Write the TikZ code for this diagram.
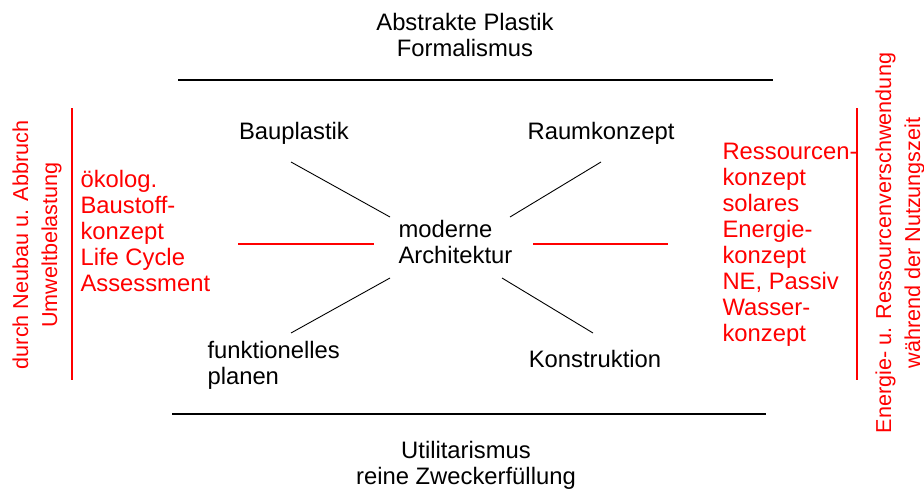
\documentclass[tikz,border=0pt]{standalone}
\usepackage{fontspec}
\setmainfont{Liberation Sans}
\begin{document}
\begin{tikzpicture}[x=1pt,y=-1pt]

      \useasboundingbox (0,0) rectangle (924,490);

      \begin{scope}[every node/.style={align=center,font=\fontsize{23.8}{26}\selectfont}]
        \node (abs)  at (465,35)  {Abstrakte Plastik\\Formalismus};
        \node (uti)  at (466,465) {Utilitarismus\\reine Zweckerfüllung};
        \node (bau)  at (294,133) {Bauplastik};
        \node (raum) at (601,133) {Raumkonzept};
        \node (kon)  at (595,359) {Konstruktion};
        \node[align=left,anchor=west] (mod)  at (395,242) {moderne\\Architektur};
        \node[align=left,anchor=west] (fkt)  at (204,365) {funktionelles\\planen};
      \end{scope}

      \begin{scope}[every node/.style={red,font=\fontsize{23.8}{26}\selectfont}]
        \node[align=left,anchor=west] (oeko) at (77,231) {ökolog.\\Baustoff-\\konzept\\Life Cycle\\Assessment};
        \node[align=left,anchor=west] (ress) at (719,245) {Ressourcen-\\konzept\\solares\\Energie-\\konzept\\NE, Passiv\\Wasser-\\konzept};
      \end{scope}

      \begin{scope}[every node/.style={red,rotate=90,align=center,font=\fontsize{21.6}{29}\selectfont}]
        \node (umw)  at (37,245)  {durch Neubau u. Abbruch\\Umweltbelastung};
        \node (ener) at (900,243) {Energie- u. Ressourcenverschwendung\\während der Nutzungszeit};
      \end{scope}

      % Linien
      \coordinate (t1) at (178,80);  \coordinate (t2) at (773,80);
      \coordinate (b1) at (172,414); \coordinate (b2) at (766,414);
      \coordinate (l1) at (72,108);  \coordinate (l2) at (72,380);
      \coordinate (r1) at (857,108); \coordinate (r2) at (857,380);
      \coordinate (lh1) at (238,244); \coordinate (lh2) at (374,244);
      \coordinate (rh1) at (533,244); \coordinate (rh2) at (668,244);
      \coordinate (s1a) at (291,162); \coordinate (s1b) at (390,217);
      \coordinate (s2a) at (601,162); \coordinate (s2b) at (510,217);
      \coordinate (s3a) at (390,278); \coordinate (s3b) at (291,333);
      \coordinate (s4a) at (502,278); \coordinate (s4b) at (593,333);

      \draw[line width=2.4pt] (t1) -- (t2);
      \draw[line width=2.4pt] (b1) -- (b2);
      \draw[red,line width=2.4pt] (l1) -- (l2);
      \draw[red,line width=2.4pt] (r1) -- (r2);
      \draw[red,line width=2.4pt] (lh1) -- (lh2);
      \draw[red,line width=2.4pt] (rh1) -- (rh2);

      \begin{scope}[every path/.style={draw,line width=0.9pt}]
        \path (s1a) -- (s1b);
        \path (s2a) -- (s2b);
        \path (s3a) -- (s3b);
        \path (s4a) -- (s4b);
      \end{scope}

    \end{tikzpicture}
\end{document}
